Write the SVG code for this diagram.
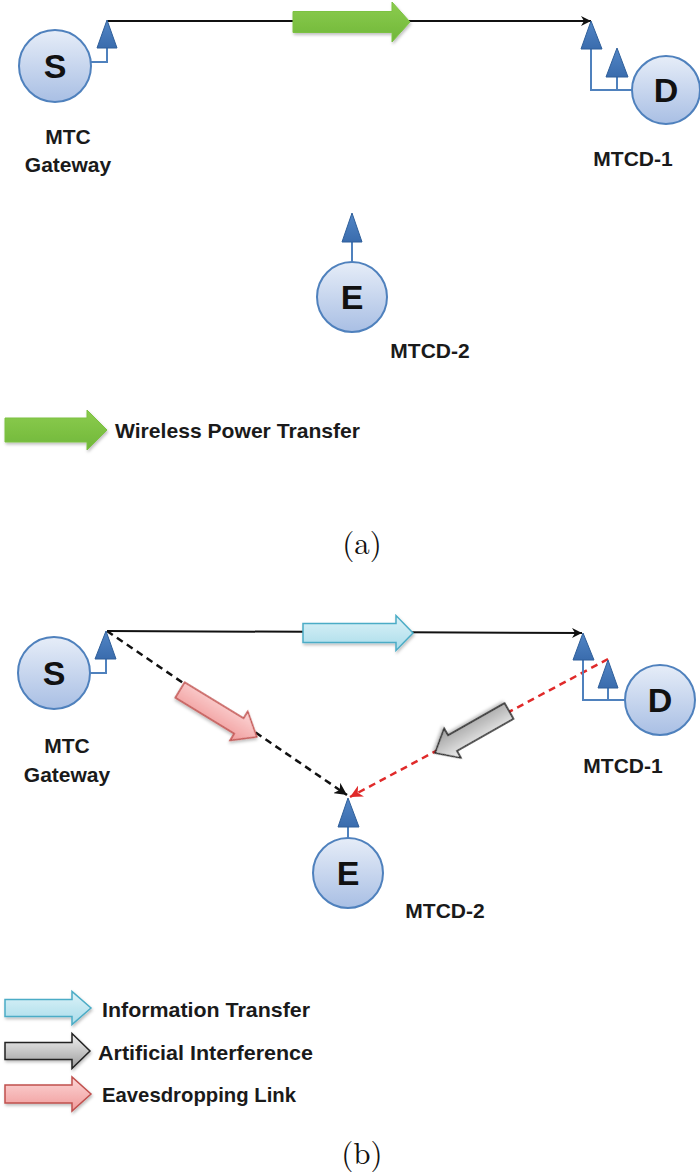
<svg xmlns="http://www.w3.org/2000/svg" width="700" height="1172" viewBox="0 0 700 1172">
  <defs>
    <linearGradient id="gNode" x1="0" y1="0" x2="0" y2="1">
      <stop offset="0" stop-color="#e6edf8"/>
      <stop offset="1" stop-color="#a9bfe4"/>
    </linearGradient>
    <linearGradient id="gAnt" x1="0" y1="0" x2="0" y2="1">
      <stop offset="0" stop-color="#5286c6"/>
      <stop offset="1" stop-color="#3a6cad"/>
    </linearGradient>
    <linearGradient id="gGreen" x1="0" y1="0" x2="0" y2="1">
      <stop offset="0" stop-color="#8ccc4e"/>
      <stop offset="1" stop-color="#70b73a"/>
    </linearGradient>
    <linearGradient id="gCyan" x1="0" y1="0" x2="0" y2="1">
      <stop offset="0" stop-color="#dcf2f8"/>
      <stop offset="1" stop-color="#a9dcea"/>
    </linearGradient>
    <linearGradient id="gGray" x1="0" y1="0" x2="0" y2="1">
      <stop offset="0" stop-color="#f2f2f2"/>
      <stop offset="1" stop-color="#9c9c9c"/>
    </linearGradient>
    <linearGradient id="gPink" x1="0" y1="0" x2="0" y2="1">
      <stop offset="0" stop-color="#fcd6d6"/>
      <stop offset="1" stop-color="#f09a9a"/>
    </linearGradient>
    <filter id="shadow" x="-20%" y="-30%" width="140%" height="160%">
      <feDropShadow dx="1" dy="2" stdDeviation="1.5" flood-color="#000" flood-opacity="0.25"/>
    </filter>
    <marker id="mBlack" viewBox="0 0 10 10" refX="10" refY="5" markerWidth="5" markerHeight="5" orient="auto" markerUnits="strokeWidth">
      <path d="M0,0 L10,5 L0,10 L3,5 Z" fill="#111"/>
    </marker>
    <marker id="mRed" viewBox="0 0 10 10" refX="10" refY="5" markerWidth="5" markerHeight="5" orient="auto" markerUnits="strokeWidth">
      <path d="M0,0 L10,5 L0,10 L3,5 Z" fill="#e02a2a"/>
    </marker>
  </defs>
  <style>
    .node { fill: url(#gNode); stroke: #4f81bd; stroke-width: 2; }
    .ant { fill: url(#gAnt); stroke: #2f5f9a; stroke-width: 1; }
    .stem { fill: none; stroke: #4f81bd; stroke-width: 2; }
    .letter { font-family: "Liberation Sans", Arial, sans-serif; font-weight: bold; font-size: 34px; fill: #111; text-anchor: middle; }
    .lbl { font-family: "Liberation Sans", Arial, sans-serif; font-weight: bold; font-size: 21px; fill: #1a1a1a; text-anchor: middle; }
    .leg { font-family: "Liberation Sans", Arial, sans-serif; font-weight: bold; font-size: 21px; fill: #1a1a1a; }
    .cap { font-family: "Latin Modern Roman", "Liberation Serif", "DejaVu Serif", serif; font-size: 31px; fill: #111; text-anchor: middle; }
    .solid { fill: none; stroke: #111; stroke-width: 2; }
    .dashK { fill: none; stroke: #111; stroke-width: 2.5; stroke-dasharray: 7 5; }
    .dashR { fill: none; stroke: #e02a2a; stroke-width: 2.5; stroke-dasharray: 7 5; }
    .green { fill: url(#gGreen); stroke: #7cc242; stroke-width: 1; filter: url(#shadow); }
    .cyan { fill: url(#gCyan); stroke: #4bacc6; stroke-width: 1.5; filter: url(#shadow); }
    .gray { fill: url(#gGray); stroke: #222; stroke-width: 1.5; filter: url(#shadow); }
    .pink { fill: url(#gPink); stroke: #c0504d; stroke-width: 1.5; filter: url(#shadow); }
  </style>

  <!-- ============ Panel (a) ============ -->
  <g id="connectors-a">
    <line class="solid" x1="107" y1="21" x2="591" y2="21" marker-end="url(#mBlack)"/>
    <path class="green" transform="translate(293,22)" d="M0,-10.5 L99,-10.5 L99,-20 L117,0 L99,20 L99,10.5 L0,10.5 Z"/>
  </g>

  <g id="node-a-S">
    <polyline class="stem" points="107,48 107,62 91,62"/>
    <polygon class="ant" points="107,20 97,48 117,48"/>
    <circle class="node" cx="55" cy="66" r="36"/>
    <text class="letter" x="55" y="78">S</text>
    <text class="lbl" x="68" y="144">MTC</text>
    <text class="lbl" x="68" y="172">Gateway</text>
  </g>

  <g id="node-a-D">
    <polyline class="stem" points="591,49 591,90 632,90"/>
    <line class="stem" x1="617" y1="77" x2="617" y2="90"/>
    <polygon class="ant" points="591,21 581,49 602,49"/>
    <polygon class="ant" points="617,48 606,77 628,77"/>
    <circle class="node" cx="666" cy="90" r="34"/>
    <text class="letter" x="666" y="102">D</text>
    <text class="lbl" x="633" y="166">MTCD-1</text>
  </g>

  <g id="node-a-E">
    <line class="stem" x1="352" y1="242" x2="352" y2="262"/>
    <polygon class="ant" points="352,213 342,242 362,242"/>
    <circle class="node" cx="352" cy="297" r="35"/>
    <text class="letter" x="352" y="309">E</text>
    <text class="lbl" x="430" y="358">MTCD-2</text>
  </g>

  <g id="legend-a">
    <path class="green" transform="translate(5,430)" d="M0,-12 L82,-12 L82,-20 L102,0 L82,20 L82,12 L0,12 Z"/>
    <text class="leg" x="115" y="438" textLength="245" lengthAdjust="spacingAndGlyphs">Wireless Power Transfer</text>
  </g>

  <text class="cap" x="362" y="554">(a)</text>

  <!-- ============ Panel (b) ============ -->
  <g id="connectors-b">
    <line class="solid" x1="107" y1="631" x2="582" y2="633" marker-end="url(#mBlack)"/>
    <path class="cyan" transform="translate(303,633)" d="M0,-9.5 L93,-9.5 L93,-17.5 L110,0 L93,17.5 L93,9.5 L0,9.5 Z"/>
    <line class="dashK" x1="107" y1="631" x2="347" y2="795" marker-end="url(#mBlack)"/>
    <line class="dashR" x1="608" y1="659" x2="350" y2="797" marker-end="url(#mRed)"/>
    <path class="pink" transform="translate(180,690) rotate(31.4)" d="M0,-9 L69,-9 L69,-17 L90,0 L69,17 L69,9 L0,9 Z"/>
    <path class="gray" transform="translate(509,711) rotate(150.4)" d="M0,-9 L65,-9 L65,-17 L85,0 L65,17 L65,9 L0,9 Z"/>
  </g>

  <g id="node-b-S">
    <polyline class="stem" points="106,659 106,673 90,673"/>
    <polygon class="ant" points="106,631 95,659 116,659"/>
    <circle class="node" cx="54" cy="673" r="36"/>
    <text class="letter" x="54" y="685">S</text>
    <text class="lbl" x="67" y="753">MTC</text>
    <text class="lbl" x="67" y="782">Gateway</text>
  </g>

  <g id="node-b-D">
    <polyline class="stem" points="583,660 583,700 625,700"/>
    <line class="stem" x1="608" y1="688" x2="608" y2="700"/>
    <polygon class="ant" points="583,633 573,660 594,660"/>
    <polygon class="ant" points="608,660 598,688 618,688"/>
    <circle class="node" cx="660" cy="700" r="35"/>
    <text class="letter" x="660" y="712">D</text>
    <text class="lbl" x="623" y="773">MTCD-1</text>
  </g>

  <g id="node-b-E">
    <line class="stem" x1="348" y1="827" x2="348" y2="838"/>
    <polygon class="ant" points="348,798 338,827 359,827"/>
    <circle class="node" cx="348" cy="873" r="35"/>
    <text class="letter" x="348" y="885">E</text>
    <text class="lbl" x="445" y="918">MTCD-2</text>
  </g>

  <g id="legend-b">
    <path class="cyan" transform="translate(5,1008)" d="M0,-8.5 L67,-8.5 L67,-16.5 L86,0 L67,16.5 L67,8.5 L0,8.5 Z"/>
    <text class="leg" x="102" y="1017" textLength="208" lengthAdjust="spacingAndGlyphs">Information Transfer</text>
    <path class="gray" transform="translate(5,1051)" d="M0,-8.5 L67,-8.5 L67,-17.5 L85,0 L67,17.5 L67,8.5 L0,8.5 Z"/>
    <text class="leg" x="98" y="1060" textLength="215" lengthAdjust="spacingAndGlyphs">Artificial Interference</text>
    <path class="pink" transform="translate(5,1094)" d="M0,-9 L67,-9 L67,-17 L86,0 L67,17 L67,9 L0,9 Z"/>
    <text class="leg" x="102" y="1102" textLength="194" lengthAdjust="spacingAndGlyphs">Eavesdropping Link</text>
  </g>

  <text class="cap" x="362" y="1164">(b)</text>
</svg>
